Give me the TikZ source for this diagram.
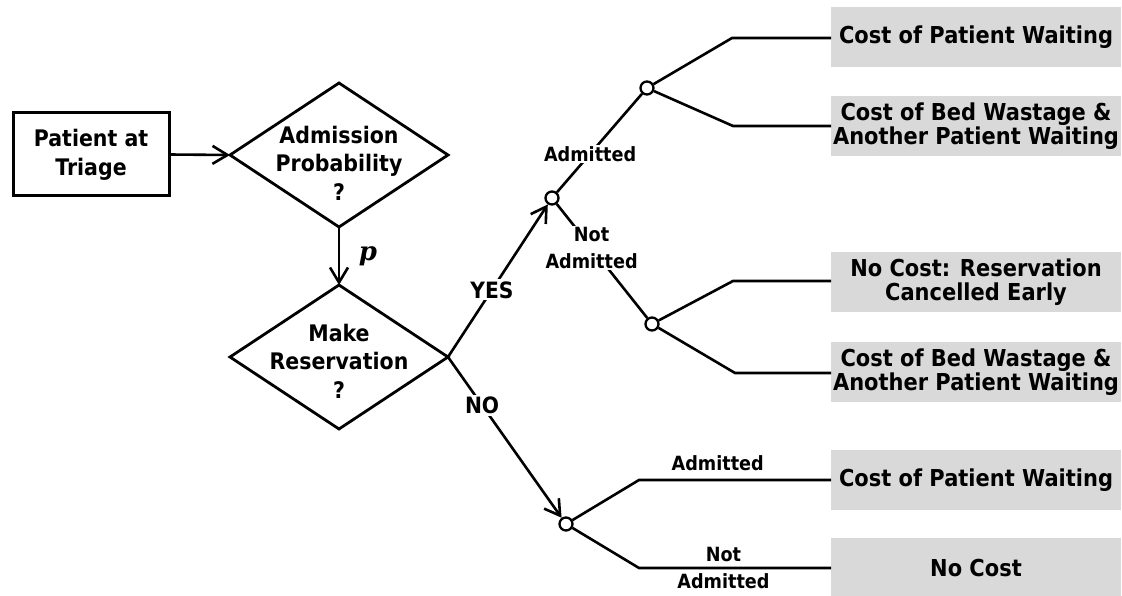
\documentclass[tikz,border=0pt]{standalone}
\usepackage{fontspec}
\setmainfont[FakeStretch=0.9]{DejaVu Sans}
\newfontfamily\pfont{DejaVu Serif}
\usetikzlibrary{shapes.geometric,arrows.meta}
\definecolor{boxgray}{RGB}{217,217,217}
\newcommand{\diatext}[2]{\smash{\makebox[0pt]{\raisebox{#1}{\begin{tabular}{@{}c@{}}#2\end{tabular}}}}}
\begin{document}
\begin{tikzpicture}[x=1pt,y=-1pt,
  conn/.style={line width=2.6pt},
  arr/.style={conn,-{Straight Barb[length=15pt,width=18pt]}},
  dia/.style={diamond, draw, line width=2.8pt, aspect=1.514, minimum width=218pt, minimum height=144pt,
    inner sep=0pt, outer sep=0pt, font=\fontsize{22.8}{28.5}\selectfont\bfseries},
  startbox/.style={rectangle, draw, line width=3pt, minimum width=156pt, minimum height=83pt,
    inner sep=0pt, outer sep=0pt, align=center, font=\fontsize{22.8}{29}\selectfont\bfseries},
  costbox/.style={rectangle, fill=boxgray, minimum width=290pt, minimum height=60pt,
    inner sep=0pt, outer sep=0pt, align=center, font=\fontsize{23.3}{24.3}\selectfont\bfseries},
  chance/.style={circle, draw, line width=2.3pt, fill=white, minimum size=13pt, inner sep=0pt},
  lab/.style={font=\fontsize{19.6}{27}\selectfont\bfseries, inner sep=1.5pt, align=center},
  yn/.style={font=\fontsize{22.5}{24}\selectfont\bfseries, inner sep=2pt, fill=white},
  plab/.style={font=\pfont\bfseries\itshape\fontsize{26}{26}\selectfont, inner sep=0pt}
]
\useasboundingbox (0,0) rectangle (1122,596);

% main nodes
\node[startbox] (pt) at (91,154.5) {Patient at\\Triage};
\node[dia] (d1) at (339,155) {\diatext{-16pt}{Admission\\Probability\\?}};
\node[dia] (d2) at (339,357) {\diatext{-12pt}{Make\\Reservation\\?}};

% chance nodes
\node[chance] (c1) at (552,198) {};
\node[chance] (c2) at (647,88) {};
\node[chance] (c3) at (652,324) {};
\node[chance] (c4) at (566,524) {};

% outcome boxes
\node[costbox] (b1) at (976,37.5) {Cost of Patient Waiting};
\node[costbox] (b2) at (976,126) {Cost of Bed Wastage \&\\Another Patient Waiting};
\node[costbox] (b3) at (976,282) {No Cost: Reservation\\Cancelled Early};
\node[costbox] (b4) at (976,372) {Cost of Bed Wastage \&\\Another Patient Waiting};
\node[costbox] (b5) at (976,480) {Cost of Patient Waiting};
\node[costbox] (b6) at (976,568) {No Cost};

% bend points
\coordinate (k1) at (732,38);
\coordinate (k2) at (733,126);
\coordinate (k3) at (733,281);
\coordinate (k4) at (735,373);
\coordinate (k5) at (639,480);
\coordinate (k6) at (639,568);

% connectors
\draw[arr] (pt.east) -- (d1.west);
\draw[arr] (d1.south) -- node[plab, pos=0.5, xshift=29pt] {p} (d2.north);
\draw[arr] (d2.east) -- node[yn, pos=0.44] {YES} (c1);
\draw[arr] (d2.east) -- node[yn, pos=0.30] {NO} (c4);

\draw[conn] (c1) -- node[lab, fill=white, pos=0.39] {Admitted} (c2);
\draw[conn] (c1) -- node[lab, fill=white, pos=0.385] {Not\\Admitted} (c3);

\draw[conn] (c2) -- (k1) -- (k1 -| b1.west);
\draw[conn] (c2) -- (k2) -- (k2 -| b2.west);
\draw[conn] (c3) -- (k3) -- (k3 -| b3.west);
\draw[conn] (c3) -- (k4) -- (k4 -| b4.west);
\draw[conn] (c4) -- (k5) -- node[lab, pos=0.41, yshift=17pt] {Admitted} (k5 -| b5.west);
\draw[conn] (c4) -- (k6) -- node[lab, pos=0.44] {Not\\Admitted} (k6 -| b6.west);
\end{tikzpicture}
\end{document}
